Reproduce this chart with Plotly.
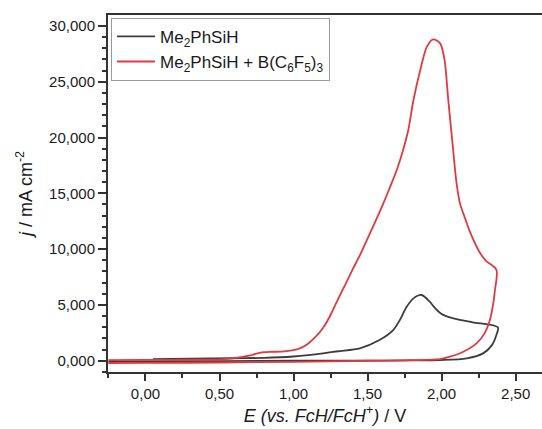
import plotly.graph_objects as go

# Cyclic voltammograms (E in V vs. FcH/FcH+, j in mA cm^-2)
E_silane = [0.05, 0.3, 0.6, 0.8, 1.0, 1.1, 1.2, 1.3, 1.448, 1.58, 1.673, 1.72, 1.764,
            1.81, 1.865, 1.92, 1.95, 1.99, 2.03, 2.08, 2.21, 2.38,
            2.37, 2.34, 2.28, 2.17, 1.99, 1.8, 1.5, 1.0, 0.5, 0.0, -0.25]
j_silane = [150, 180, 220, 260, 380, 500, 660, 850, 1110, 1855, 2750, 3700, 4840,
            5590, 5890, 5290, 4800, 4280, 4000, 3800, 3440, 2990,
            2300, 1400, 660, 215, 60, 30, 10, 0, -30, -60, -90]

E_borane = [-0.25, 0.0, 0.3, 0.5, 0.6, 0.7, 0.75, 0.8, 0.85, 0.92, 1.0, 1.05, 1.1, 1.15,
            1.2, 1.25, 1.30, 1.35, 1.40, 1.45, 1.50, 1.55, 1.60, 1.65, 1.70, 1.74, 1.775,
            1.81, 1.853, 1.90, 1.943, 1.99, 2.02, 2.045, 2.078, 2.10, 2.124, 2.16, 2.19,
            2.26, 2.30, 2.37,
            2.36, 2.349, 2.326, 2.29, 2.236, 2.146, 2.056, 1.99, 1.8, 1.5, 1.0, 0.5, 0.0, -0.25]
j_borane = [60, 70, 90, 130, 230, 450, 640, 770, 800, 820, 950, 1150, 1550, 2150,
            2950, 4100, 5500, 6850, 8200, 9500, 10950, 12400, 13900, 15500, 17200, 18880, 20670,
            23360, 25900, 28130, 28800, 28440, 26940, 23360, 18880, 16000, 14100, 12700, 11600,
            9650, 8950, 8150,
            6310, 5140, 3650, 2455, 1560, 806, 360, 150, 50, 0, -100, -160, -200, -220]

x_ticks = [0.0, 0.5, 1.0, 1.5, 2.0, 2.5]
x_labels = ["0,00", "0,50", "1,00", "1,50", "2,00", "2,50"]
y_ticks = [0, 5000, 10000, 15000, 20000, 25000, 30000]
y_labels = ["0,000", "5,000", "10,000", "15,000", "20,000", "25,000", "30,000"]

FONT = "Liberation Sans, Arial, sans-serif"
AXIS_COLOR = "#333333"

fig = go.Figure()
fig.add_trace(go.Scatter(
    x=E_silane, y=j_silane, mode="lines", name="Me<sub>2</sub>PhSiH",
    line=dict(color="#3d3d3d", width=1.8, shape="spline", smoothing=0.8)))
fig.add_trace(go.Scatter(
    x=E_borane, y=j_borane, mode="lines",
    name="Me<sub>2</sub>PhSiH + B(C<sub>6</sub>F<sub>5</sub>)<sub>3</sub>",
    line=dict(color="#e03a40", width=1.8, shape="spline", smoothing=0.8)))

minor_x = [v / 4 for v in range(-1, 11) if v % 2 != 0]
minor_y = [v for v in range(-1000, 31000, 1000) if v % 5000 != 0]

fig.update_layout(
    width=542, height=429,
    margin=dict(l=108, r=0, t=15, b=57),
    paper_bgcolor="white", plot_bgcolor="white",
    font=dict(family=FONT, color="#1a1a1a", size=15),
    legend=dict(
        x=0.007, y=0.992, xanchor="left", yanchor="top",
        bordercolor="#9a9a9a", borderwidth=1, bgcolor="white",
        font=dict(family=FONT, size=17, color="#1a1a1a"),
        itemwidth=38, tracegroupgap=0),
    xaxis=dict(
        range=[-0.253, 2.678], showgrid=False, zeroline=False,
        showline=True, linecolor=AXIS_COLOR, linewidth=2, mirror=True,
        ticks="outside", ticklen=7, tickwidth=1.5, tickcolor=AXIS_COLOR,
        tickmode="array", tickvals=x_ticks, ticktext=x_labels,
        tickfont=dict(family=FONT, size=15),
        minor=dict(tickmode="array", tickvals=minor_x, ticks="outside",
                   ticklen=4, tickwidth=1.5, tickcolor=AXIS_COLOR),
        title=dict(text="<i>E (vs. FcH/FcH<sup>+</sup>)</i> / V",
                   font=dict(family=FONT, size=18), standoff=8)),
    yaxis=dict(
        range=[-1010, 30980], showgrid=False, zeroline=False,
        showline=True, linecolor=AXIS_COLOR, linewidth=2,
        ticks="outside", ticklen=8, tickwidth=1.5, tickcolor=AXIS_COLOR,
        tickmode="array", tickvals=y_ticks, ticktext=y_labels,
        tickfont=dict(family=FONT, size=15),
        minor=dict(tickmode="array", tickvals=minor_y, ticks="outside",
                   ticklen=4, tickwidth=1.5, tickcolor=AXIS_COLOR),
        title=dict(text="<i>j</i> / mA cm<sup>-2</sup>",
                   font=dict(family=FONT, size=18), standoff=12)),
)

fig.write_html("out.html")
